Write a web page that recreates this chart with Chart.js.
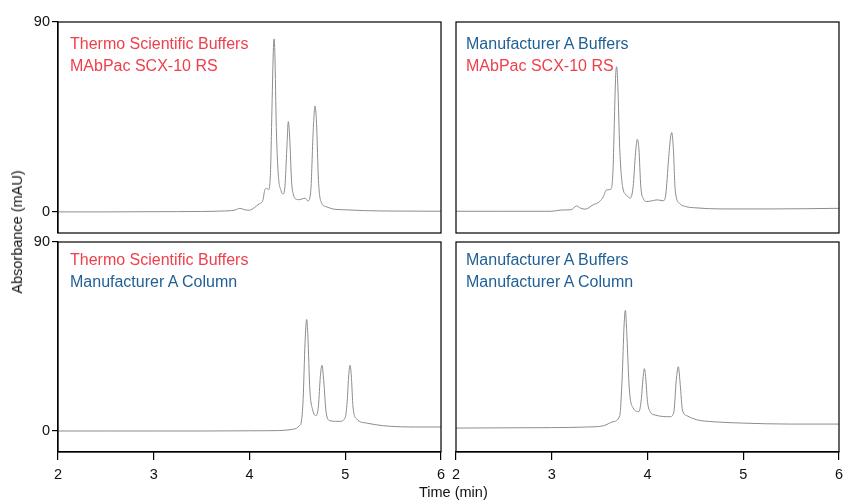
<!DOCTYPE html>
<html>
<head>
<meta charset="utf-8">
<script src="https://cdn.jsdelivr.net/npm/chart.js@4.4.1/dist/chart.umd.min.js"></script>
<style>
  html, body { margin: 0; padding: 0; background: #fff; }
  body { width: 843px; height: 502px; position: relative; overflow: hidden;
         font-family: "Liberation Sans", Arial, Helvetica, sans-serif; }
  .panel { position: absolute; }
  .note { position: absolute; font-size: 16px; line-height: 22px; white-space: nowrap; }
  .red { color: #ee3f4b; }
  .blue { color: #1f5f95; }
  .title { position: absolute; font-size: 14.5px; color: #111; white-space: nowrap; }
</style>
</head>
<body>
<div class="panel" style="left:0;top:0;width:445px;height:240px;"><canvas id="c_tl"></canvas></div>
<div class="panel" style="left:445px;top:0;width:398px;height:240px;"><canvas id="c_tr"></canvas></div>
<div class="panel" style="left:0;top:236px;width:445px;height:266px;"><canvas id="c_bl"></canvas></div>
<div class="panel" style="left:445px;top:236px;width:398px;height:266px;"><canvas id="c_br"></canvas></div>

<div class="note" style="left:70px;top:33px;"><span class="red">Thermo Scientific Buffers</span><br><span class="red">MAbPac SCX-10 RS</span></div>
<div class="note" style="left:466px;top:33px;"><span class="blue">Manufacturer A Buffers</span><br><span class="red">MAbPac SCX-10 RS</span></div>
<div class="note" style="left:70px;top:249px;"><span class="red">Thermo Scientific Buffers</span><br><span class="blue">Manufacturer A Column</span></div>
<div class="note" style="left:466px;top:249px;"><span class="blue">Manufacturer A Buffers</span><br><span class="blue">Manufacturer A Column</span></div>

<div class="title" style="left:419px;top:484px;">Time (min)</div>
<div class="title" style="left:17px;top:232px;transform:translate(-50%,-50%) rotate(-90deg);">Absorbance (mAU)</div>

<script>
// ---- Data (time in min, absorbance in mAU) ----
const xTicks = [2, 3, 4, 5, 6];
const yTicks = [0, 90];

// Thermo Scientific Buffers / MAbPac SCX-10 RS
const tlTime = [2.0, 2.5, 3.0, 3.5, 3.7, 3.85, 3.90, 3.95, 4.0, 4.05, 4.10, 4.14, 4.16, 4.18, 4.20, 4.22, 4.235, 4.25, 4.257, 4.265, 4.28, 4.30, 4.33, 4.35, 4.37, 4.39, 4.405, 4.42, 4.44, 4.46, 4.48, 4.52, 4.56, 4.58, 4.61, 4.64, 4.665, 4.684, 4.70, 4.72, 4.75, 4.80, 4.87, 5.0, 5.2, 5.5, 6.0];
const tlAbs  = [0.0, 0.0, 0.1, 0.2, 0.4, 0.9, 1.7, 1.0, 0.8, 2.0, 3.8, 5.5, 10.5, 11.2, 10.5, 20, 50, 78, 82, 75, 40, 18, 10, 8.5, 12, 30, 42.8, 35, 14, 8, 6.2, 5.8, 6.3, 6.5, 5.2, 10, 38, 50.2, 42, 15, 4.5, 2.5, 1.4, 1.0, 0.6, 0.4, 0.3];

// Manufacturer A Buffers / MAbPac SCX-10 RS
const trTime = [2.0, 2.5, 3.0, 3.1, 3.2, 3.26, 3.3, 3.35, 3.43, 3.50, 3.54, 3.57, 3.62, 3.64, 3.655, 3.668, 3.678, 3.69, 3.71, 3.74, 3.78, 3.82, 3.85, 3.875, 3.894, 3.91, 3.93, 3.96, 3.99, 4.05, 4.10, 4.165, 4.19, 4.22, 4.24, 4.253, 4.27, 4.29, 4.34, 4.40, 4.48, 4.79, 5.3, 6.0];
const trAbs  = [0.3, 0.3, 0.3, 0.9, 1.0, 2.8, 1.8, 1.3, 3.3, 4.9, 7.3, 10.4, 10.9, 20, 45, 65, 68.8, 60, 30, 12, 8, 6.5, 12, 28, 34.4, 30, 12, 6, 4.9, 5.3, 5.7, 5.3, 8, 25, 35, 37.6, 30, 10, 3.8, 2.5, 2.0, 1.4, 1.4, 1.7];

// Thermo Scientific Buffers / Manufacturer A Column
const blTime = [2.0, 2.5, 3.0, 3.5, 4.0, 4.3, 4.35, 4.45, 4.49, 4.52, 4.54, 4.56, 4.58, 4.597, 4.61, 4.63, 4.66, 4.695, 4.72, 4.74, 4.757, 4.775, 4.80, 4.84, 4.90, 4.945, 5.0, 5.02, 5.037, 5.05, 5.065, 5.08, 5.12, 5.22, 5.40, 5.75, 6.0];
const blAbs  = [0.0, 0.0, 0.0, 0.0, 0.1, 0.2, 0.3, 0.8, 1.3, 2.5, 4.1, 15, 42, 53.1, 45, 20, 10, 7.3, 12, 26, 31.3, 24, 9, 4.9, 4.6, 4.6, 6.5, 14, 27, 31.3, 25, 12, 5.7, 3.8, 2.5, 1.9, 1.9];

// Manufacturer A Buffers / Manufacturer A Column
const brTime = [2.0, 2.5, 3.0, 3.365, 3.54, 3.64, 3.71, 3.735, 3.755, 3.769, 3.785, 3.81, 3.85, 3.91, 3.935, 3.955, 3.967, 3.98, 4.0, 4.03, 4.08, 4.235, 4.275, 4.30, 4.322, 4.342, 4.365, 4.41, 4.51, 4.69, 4.97, 5.49, 6.0];
const brAbs  = [1.4, 1.5, 1.6, 1.9, 2.5, 4.4, 7.3, 25, 50, 57.5, 45, 20, 11, 9.2, 15, 26, 29.7, 26, 14, 9, 7.6, 6.8, 9, 24, 30.6, 22, 10, 7.3, 5.4, 4.4, 3.8, 3.3, 3.3];

// ---- Chart construction ----
const LINE = '#8c8c8c';
const FONT = { family: '"Liberation Sans", Arial, Helvetica, sans-serif', size: 14.5 };

const boxPlugin = {
  id: 'box',
  afterDraw(chart) {
    const a = chart.chartArea, ctx = chart.ctx;
    ctx.save();
    ctx.strokeStyle = '#000';
    ctx.lineWidth = 1.2;
    ctx.strokeRect(a.left, a.top, a.right - a.left, a.bottom - a.top);
    ctx.restore();
  }
};

function pts(t, v) { return t.map((x, i) => ({ x: x, y: v[i] })); }

function makeChart(id, t, v, opt) {
  const showY = opt.showY, showX = opt.showX;
  return new Chart(document.getElementById(id), {
    type: 'line',
    data: { datasets: [{ data: pts(t, v), borderColor: LINE, borderWidth: 1,
      pointRadius: 0, cubicInterpolationMode: 'monotone', fill: false }] },
    options: {
      responsive: true, maintainAspectRatio: false, animation: false,
      devicePixelRatio: 1,
      layout: { padding: opt.padding },
      plugins: { legend: { display: false }, tooltip: { enabled: false } },
      scales: {
        x: {
          type: 'linear', min: 2, max: 6,
          afterBuildTicks: (s) => { s.ticks = xTicks.map(x => ({ value: x })); },
          afterFit: (s) => { s.paddingLeft = 0; s.paddingRight = 0; if (showX) s.height = 34; },
          display: showX,
          grid: { display: true, drawOnChartArea: false, drawTicks: true, tickLength: 8, color: '#000', lineWidth: 1.2 },
          border: { display: true, color: '#000', width: 1.2 },
          ticks: { color: '#111', font: FONT, padding: 6, maxRotation: 0, autoSkip: false }
        },
        y: {
          type: 'linear', min: -10, max: 90,
          afterBuildTicks: (s) => { s.ticks = yTicks.map(y => ({ value: y })); },
          afterFit: (s) => { s.paddingTop = 0; s.paddingBottom = 0; if (showY) s.width = 58; },
          display: showY,
          grid: { display: true, drawOnChartArea: false, drawTicks: true, tickLength: 6, color: '#000', lineWidth: 1.2 },
          border: { display: true, color: '#000', width: 1.2 },
          ticks: { color: '#111', font: FONT, padding: 2, autoSkip: false }
        }
      }
    },
    plugins: [boxPlugin]
  });
}

// chart areas: left panels x 58..441, right panels x 456..839 ; top y 22..233, bottom y 242..452
makeChart('c_tl', tlTime, tlAbs, { showY: true, showX: false, padding: { left: 0, right: 4, top: 22, bottom: 7 } });
makeChart('c_tr', trTime, trAbs, { showY: false, showX: false, padding: { left: 11, right: 4, top: 22, bottom: 7 } });
makeChart('c_bl', blTime, blAbs, { showY: true, showX: true, padding: { left: 0, right: 4, top: 6, bottom: 16 } });
makeChart('c_br', brTime, brAbs, { showY: false, showX: true, padding: { left: 11, right: 4, top: 6, bottom: 16 } });
</script>
</body>
</html>
